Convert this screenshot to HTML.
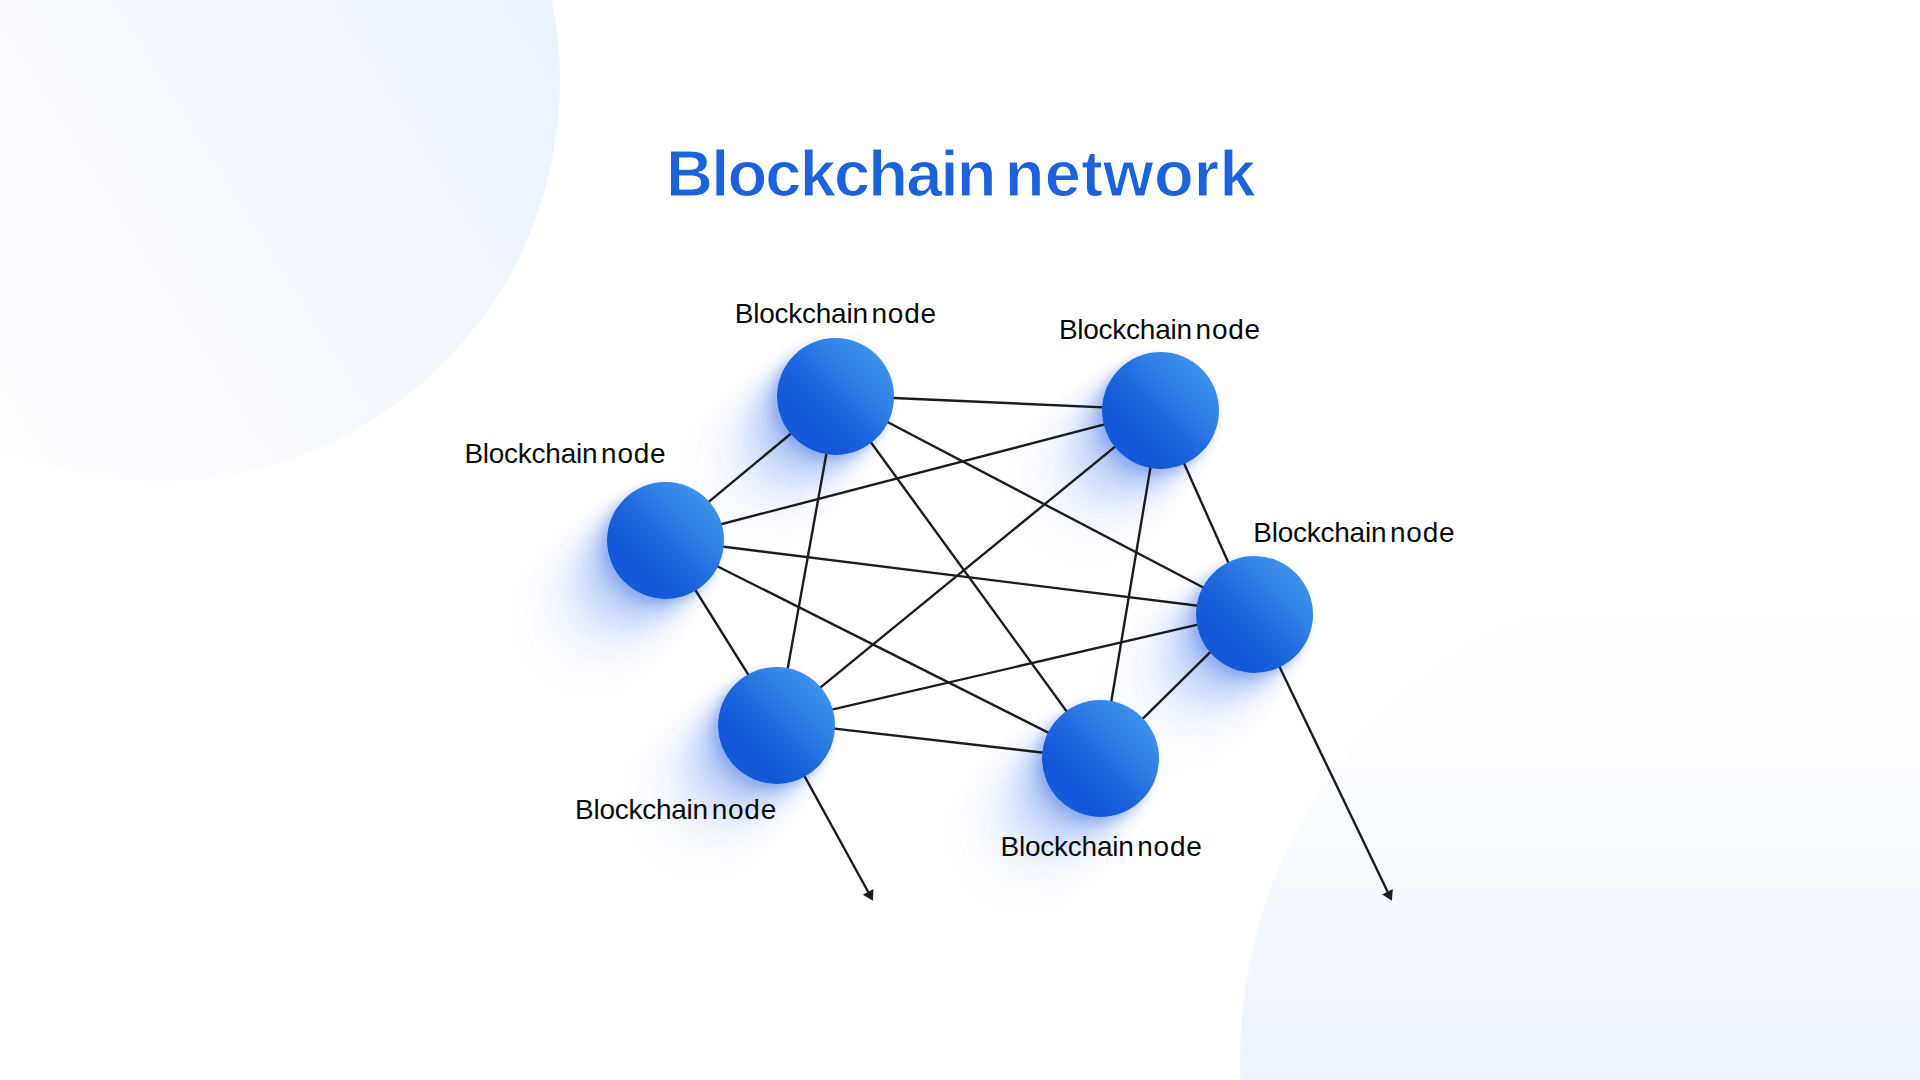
<!DOCTYPE html>
<html><head><meta charset="utf-8"><title>Blockchain network</title><style>
html,body{margin:0;padding:0;}
body{width:1920px;height:1080px;position:relative;overflow:hidden;background:#fff;font-family:"Liberation Sans",sans-serif;}
.bg1{position:absolute;left:-240px;top:-319px;width:800px;height:800px;border-radius:50%;background:linear-gradient(238deg,#e7f0fd 0%,#edf4fe 25%,#f5f8fe 48%,#fbfcff 70%,#ffffff 100%);}
.bg2{position:absolute;left:1240px;top:565px;width:990px;height:990px;border-radius:50%;background:linear-gradient(180deg,#ffffff 0%,#fbfdff 20%,#f2f7fe 40%,#e8f0fd 60%,#e1ebfc 85%,#dde8fc 100%);}
.title{position:absolute;left:666px;top:141px;font-size:65px;font-weight:bold;line-height:1;word-spacing:-8px;color:#1b63db;-webkit-text-stroke:1.1px #fff;white-space:nowrap;}
.w1{letter-spacing:-1.8px;}
.w2{letter-spacing:0.25px;}
.lb{position:absolute;font-size:28px;line-height:1;word-spacing:-4px;color:#0b0b0b;white-space:nowrap;}
.la{letter-spacing:-0.25px;}
.lnode{letter-spacing:0.75px;}
.sh{position:absolute;width:117.0px;height:117.0px;border-radius:50%;box-shadow:-4px 4px 10px rgba(35,95,230,0.25),-12px 12px 16px rgba(35,95,230,0.15),-22px 22px 22px rgba(35,95,230,0.105),-33px 33px 28px rgba(35,95,230,0.075),-45px 45px 34px rgba(35,95,230,0.055),-58px 58px 42px rgba(35,95,230,0.04),-74px 74px 52px rgba(35,95,230,0.028);}
.nd{position:absolute;width:117.0px;height:117.0px;border-radius:50%;background:linear-gradient(225deg,#3d90ea 14.6%,#3282e6 32%,#2169df 50%,#175fdb 62%,#1157d9 75%,#145ada 86%);}
svg{position:absolute;left:0;top:0;}
</style></head><body>
<div class="bg1"></div>
<div class="bg2"></div>
<div class="title"><span class="w1">Blockchain</span> <span class="w2">network</span></div>
<div class="sh" style="left:607.0px;top:481.8px"></div>
<div class="sh" style="left:777.1px;top:338.0px"></div>
<div class="sh" style="left:1101.8px;top:352.1px"></div>
<div class="sh" style="left:1195.5px;top:555.5px"></div>
<div class="sh" style="left:1042.4px;top:700.3px"></div>
<div class="sh" style="left:717.9px;top:666.5px"></div>
<svg width="1920" height="1080" viewBox="0 0 1920 1080">
<g stroke="#1c1c1e" stroke-width="2.4" fill="none">
<line x1="663.63" y1="539.26" x2="836.87" y2="395.5"/>
<line x1="663.63" y1="539.26" x2="1160.13" y2="409.85"/>
<line x1="663.63" y1="539.26" x2="1250.54" y2="612.31"/>
<line x1="663.63" y1="539.26" x2="1101.58" y2="759.45"/>
<line x1="663.63" y1="539.26" x2="778.04" y2="722.14"/>
<line x1="836.87" y1="395.5" x2="1160.13" y2="409.85"/>
<line x1="836.87" y1="395.5" x2="1250.54" y2="612.31"/>
<line x1="836.87" y1="395.5" x2="1101.58" y2="759.45"/>
<line x1="836.87" y1="395.5" x2="778.04" y2="722.14"/>
<line x1="1160.13" y1="409.85" x2="1250.54" y2="612.31"/>
<line x1="1160.13" y1="409.85" x2="1101.58" y2="759.45"/>
<line x1="1160.13" y1="409.85" x2="778.04" y2="722.14"/>
<line x1="1250.54" y1="612.31" x2="1101.58" y2="759.45"/>
<line x1="1250.54" y1="612.31" x2="778.04" y2="722.14"/>
<line x1="1101.58" y1="759.45" x2="778.04" y2="722.14"/>
<line x1="776.4" y1="725" x2="868.2" y2="892"/><line x1="1254.2" y1="614" x2="1387.6" y2="891.8"/>
</g>
<polygon points="873,900.7 862.8,894.8 873.4,889" fill="#1c1c1e"/><polygon points="1391.9,900.7 1382.2,894.6 1392.8,889" fill="#1c1c1e"/>
</svg>
<div class="nd" style="left:607.0px;top:481.8px"></div>
<div class="nd" style="left:777.1px;top:338.0px"></div>
<div class="nd" style="left:1101.8px;top:352.1px"></div>
<div class="nd" style="left:1195.5px;top:555.5px"></div>
<div class="nd" style="left:1042.4px;top:700.3px"></div>
<div class="nd" style="left:717.9px;top:666.5px"></div>
<div class="lb" style="left:734.8px;top:300px"><span class="la">Blockchain</span> <span class="lnode">node</span></div>
<div class="lb" style="left:1058.9px;top:315.7px"><span class="la">Blockchain</span> <span class="lnode">node</span></div>
<div class="lb" style="left:464.4px;top:439.9px"><span class="la">Blockchain</span> <span class="lnode">node</span></div>
<div class="lb" style="left:1253.3px;top:518.9px"><span class="la">Blockchain</span> <span class="lnode">node</span></div>
<div class="lb" style="left:575.0px;top:795.7px"><span class="la">Blockchain</span> <span class="lnode">node</span></div>
<div class="lb" style="left:1000.6px;top:833px"><span class="la">Blockchain</span> <span class="lnode">node</span></div>
</body></html>
